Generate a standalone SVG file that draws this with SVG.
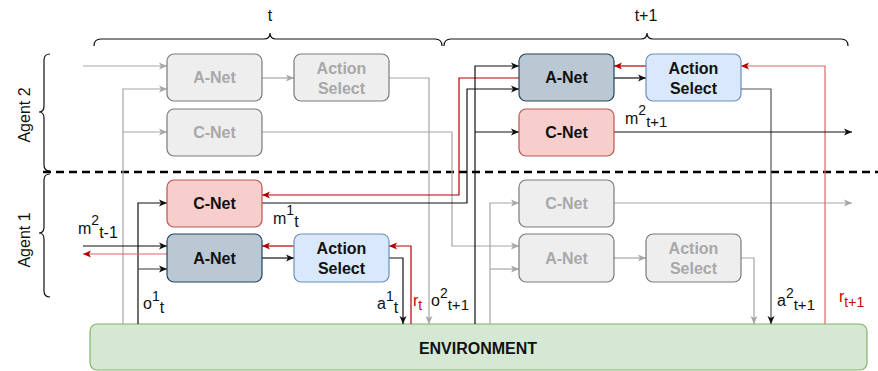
<svg xmlns="http://www.w3.org/2000/svg" width="878" height="371" viewBox="0 0 878 371">
<style>
  text { font-family: "Liberation Sans", Arial, Helvetica, sans-serif; }
  .box { stroke-width: 1.2; }
  .gbox { fill: #eeeeee; stroke: #7a7a7a; }
  .anet { fill: #bac8d3; stroke: #23445d; }
  .asel { fill: #dae8fc; stroke: #6c8ebf; }
  .cnet { fill: #f8cecc; stroke: #b85450; }
  .env { fill: #d5e8d4; stroke: #82b366; }
  .bt { font-size: 16px; font-weight: bold; text-anchor: middle; fill: #111111; }
  .gt { font-size: 16px; font-weight: bold; text-anchor: middle; fill: #a8a8a8; }
  .lab { font-size: 16px; fill: #111111; }
  .red { fill: #cc0000; }
  .cg { fill: none; stroke: #a6a6a6; stroke-width: 1.2; marker-end: url(#ag); }
  .cb { fill: none; stroke: #111111; stroke-width: 1.2; marker-end: url(#ab); }
  .cd { fill: none; stroke: #555555; stroke-width: 1.2; marker-end: url(#ab); }
  .cr { fill: none; stroke: #b20000; stroke-width: 1.2; marker-end: url(#ar); }
  .cl { fill: none; stroke: #e06666; stroke-width: 1.2; marker-end: url(#ar); }
  .brace { fill: none; stroke: #111111; stroke-width: 1.2; }
</style>
<defs>
  <marker id="ab" markerUnits="userSpaceOnUse" markerWidth="10" markerHeight="8" refX="8" refY="4" orient="auto"><path d="M0,0.5 L8,4 L0,7.5 L2,4 Z" fill="#111111"/></marker>
  <marker id="ag" markerUnits="userSpaceOnUse" markerWidth="10" markerHeight="8" refX="8" refY="4" orient="auto"><path d="M0,0.5 L8,4 L0,7.5 L2,4 Z" fill="#a6a6a6"/></marker>
  <marker id="ar" markerUnits="userSpaceOnUse" markerWidth="10" markerHeight="8" refX="8" refY="4" orient="auto"><path d="M0,0.5 L8,4 L0,7.5 L2,4 Z" fill="#b20000"/></marker>
</defs>
<rect width="878" height="371" fill="#ffffff"/>

<g id="braces">
  <path class="brace" d="M94,46 Q94,39 101,39 H264 Q270,39 270,33 Q270,39 276,39 H435 Q442,39 442,46"/>
  <path class="brace" d="M444,46 Q444,39 451,39 H641 Q647,39 647,33 Q647,39 653,39 H841 Q848,39 848,46"/>
  <path class="brace" d="M50,54 Q44,54 44,60 V106 Q44,112 39,112 Q44,112 44,118 V165 Q44,171 50,171"/>
  <path class="brace" d="M50,174 Q44,174 44,180 V227 Q44,233 39,233 Q44,233 44,239 V291 Q44,297 50,297"/>
  <text class="lab" x="270" y="21" text-anchor="middle">t</text>
  <text class="lab" x="646" y="21" text-anchor="middle">t+1</text>
  <text class="lab" x="30" y="115" text-anchor="middle" transform="rotate(-90 30 115)">Agent 2</text>
  <text class="lab" x="30" y="240" text-anchor="middle" transform="rotate(-90 30 240)">Agent 1</text>
</g>

<line id="divider" x1="43" y1="172" x2="878" y2="172" stroke="#000000" stroke-width="2.4" stroke-dasharray="8,5"/>

<g id="environment">
  <rect class="box env" x="90" y="324" width="777" height="46" rx="7"/>
  <text class="bt" x="478" y="354">ENVIRONMENT</text>
</g>

<g id="connectors">
  <!-- Agent 2, time t (faded) -->
  <path class="cg" d="M83,66 H167"/>
  <path class="cg" d="M123,324 V89 H167"/>
  <path class="cg" d="M123,132 H167"/>
  <path class="cg" d="M262,78 H294"/>
  <path class="cg" d="M389,78 H429 V324"/>
  <path class="cg" d="M262,132 H452 V246 H519"/>
  <!-- Agent 1, time t+1 (faded) -->
  <path class="cg" d="M490,324 V203 H519"/>
  <path class="cg" d="M490,269 H519"/>
  <path class="cg" d="M614,203 H852"/>
  <path class="cg" d="M614,258 H646"/>
  <path class="cg" d="M741,258 H754 V324"/>
  <!-- Agent 1, time t -->
  <path class="cb" d="M138,324 V203 H167"/>
  <path class="cd" d="M138,269 H167"/>
  <path class="cb" d="M83,246 H167"/>
  <path class="cl" d="M167,254 H83"/>
  <path class="cb" d="M262,203 H467 V89 H519"/>
  <path class="cr" d="M519,78 H459 V195 H262"/>
  <path class="cb" d="M262,258 H294"/>
  <path class="cr" d="M294,246 H262"/>
  <path class="cb" d="M389,258 H403 V324"/>
  <path class="cr" d="M411,324 V246 H389"/>
  <!-- Agent 2, time t+1 -->
  <path class="cb" d="M475,324 V66 H519"/>
  <path class="cb" d="M475,132 H519"/>
  <path class="cb" d="M614,78 H646"/>
  <path class="cr" d="M646,66 H614"/>
  <path class="cd" d="M741,89 H771 V324"/>
  <path class="cl" d="M825,324 V66 H741"/>
  <path class="cb" d="M614,132 H852"/>
</g>

<g id="a2-anet-t">
  <rect class="box gbox" x="167" y="54" width="95" height="47" rx="7"/>
  <text class="gt" x="214.5" y="83">A-Net</text>
</g>
<g id="a2-asel-t">
  <rect class="box gbox" x="294" y="54" width="95" height="47" rx="7"/>
  <text class="gt" x="341.5" y="74">Action</text>
  <text class="gt" x="341.5" y="94">Select</text>
</g>
<g id="a2-cnet-t">
  <rect class="box gbox" x="167" y="109" width="95" height="47" rx="7"/>
  <text class="gt" x="214.5" y="138">C-Net</text>
</g>
<g id="a1-cnet-t">
  <rect class="box cnet" x="167" y="180" width="95" height="47" rx="7"/>
  <text class="bt" x="214.5" y="209">C-Net</text>
</g>
<g id="a1-anet-t">
  <rect class="box anet" x="167" y="234" width="95" height="48" rx="7"/>
  <text class="bt" x="214.5" y="263.5">A-Net</text>
</g>
<g id="a1-asel-t">
  <rect class="box asel" x="294" y="234" width="95" height="48" rx="7"/>
  <text class="bt" x="341.5" y="254">Action</text>
  <text class="bt" x="341.5" y="274">Select</text>
</g>
<g id="a2-anet-t1">
  <rect class="box anet" x="519" y="54" width="95" height="47" rx="7"/>
  <text class="bt" x="566.5" y="83">A-Net</text>
</g>
<g id="a2-asel-t1">
  <rect class="box asel" x="646" y="54" width="95" height="47" rx="7"/>
  <text class="bt" x="693.5" y="74">Action</text>
  <text class="bt" x="693.5" y="94">Select</text>
</g>
<g id="a2-cnet-t1">
  <rect class="box cnet" x="519" y="109" width="95" height="47" rx="7"/>
  <text class="bt" x="566.5" y="138">C-Net</text>
</g>
<g id="a1-cnet-t1">
  <rect class="box gbox" x="519" y="180" width="95" height="47" rx="7"/>
  <text class="gt" x="566.5" y="209">C-Net</text>
</g>
<g id="a1-anet-t1">
  <rect class="box gbox" x="519" y="234" width="95" height="48" rx="7"/>
  <text class="gt" x="566.5" y="263.5">A-Net</text>
</g>
<g id="a1-asel-t1">
  <rect class="box gbox" x="646" y="234" width="95" height="48" rx="7"/>
  <text class="gt" x="693.5" y="254">Action</text>
  <text class="gt" x="693.5" y="274">Select</text>
</g>

<g id="labels">
  <text class="lab" x="78" y="234">m<tspan font-size="14" dy="-9">2</tspan><tspan font-size="16" dy="13">t-1</tspan></text>
  <text class="lab" x="273" y="224">m<tspan font-size="14" dy="-9">1</tspan><tspan font-size="16" dy="12">t</tspan></text>
  <text class="lab" x="625" y="124">m<tspan font-size="14" dy="-9">2</tspan><tspan font-size="15" dy="12">t+1</tspan></text>
  <text class="lab" x="143" y="309">o<tspan font-size="14" dy="-8">1</tspan><tspan font-size="16" dy="12">t</tspan></text>
  <text class="lab" x="377" y="309">a<tspan font-size="14" dy="-8">1</tspan><tspan font-size="16" dy="12">t</tspan></text>
  <text class="lab red" x="413" y="306">r<tspan font-size="14" dy="4">t</tspan></text>
  <text class="lab" x="431" y="306">o<tspan font-size="14" dy="-8">2</tspan><tspan font-size="15" dy="12">t+1</tspan></text>
  <text class="lab" x="777" y="306">a<tspan font-size="14" dy="-8">2</tspan><tspan font-size="15" dy="12">t+1</tspan></text>
  <text class="lab red" x="839" y="302">r<tspan font-size="14" dy="5">t+1</tspan></text>
</g>
</svg>
